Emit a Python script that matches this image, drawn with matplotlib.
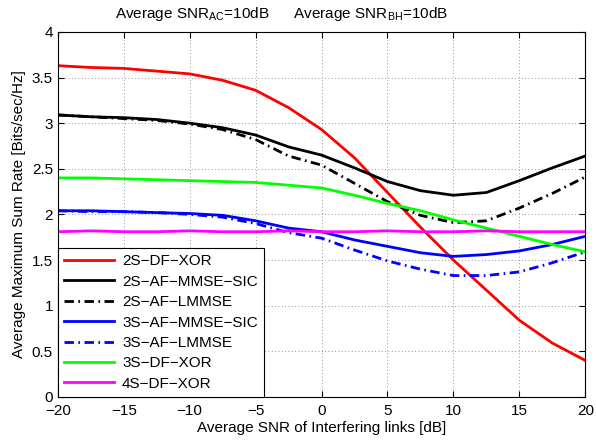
import numpy as np
import matplotlib
matplotlib.use("Agg")
import matplotlib.pyplot as plt

plt.rcParams['font.family'] = ['Liberation Sans', 'DejaVu Sans']
plt.rcParams['mathtext.fontset'] = 'custom'
plt.rcParams['mathtext.rm'] = 'Liberation Sans'

snr = [-20, -17.5, -15, -12.5, -10, -7.5, -5, -2.5, 0, 2.5, 5, 7.5, 10, 12.5, 15, 17.5, 20]

df2_xor = [3.63, 3.61, 3.60, 3.57, 3.54, 3.47, 3.36, 3.17, 2.93, 2.62, 2.24, 1.86, 1.50, 1.17, 0.84, 0.59, 0.40]
af2_sic = [3.09, 3.07, 3.06, 3.04, 3.00, 2.95, 2.87, 2.74, 2.65, 2.51, 2.36, 2.26, 2.21, 2.24, 2.37, 2.51, 2.64]
af2_lmmse = [3.09, 3.07, 3.05, 3.03, 2.99, 2.93, 2.82, 2.64, 2.54, 2.34, 2.14, 1.99, 1.91, 1.93, 2.07, 2.23, 2.41]
af3_sic = [2.04, 2.04, 2.03, 2.02, 2.01, 1.99, 1.93, 1.85, 1.81, 1.72, 1.65, 1.58, 1.54, 1.56, 1.60, 1.67, 1.76]
af3_lmmse = [2.04, 2.03, 2.03, 2.02, 2.00, 1.97, 1.90, 1.80, 1.74, 1.61, 1.49, 1.40, 1.33, 1.33, 1.37, 1.47, 1.59]
df3_xor = [2.40, 2.40, 2.39, 2.38, 2.37, 2.36, 2.35, 2.32, 2.29, 2.21, 2.12, 2.04, 1.94, 1.85, 1.76, 1.67, 1.59]
df4_xor = [1.81, 1.82, 1.81, 1.81, 1.82, 1.81, 1.81, 1.82, 1.81, 1.81, 1.82, 1.81, 1.81, 1.82, 1.81, 1.81, 1.81]

labels = ['2S\u2212DF\u2212XOR', '2S\u2212AF\u2212MMSE\u2212SIC', '2S\u2212AF\u2212LMMSE',
          '3S\u2212AF\u2212MMSE\u2212SIC', '3S\u2212AF\u2212LMMSE', '3S\u2212DF\u2212XOR', '4S\u2212DF\u2212XOR']

dashdot = (0, (3.4, 1.6, 0.6, 1.6))
fs = 11

fig = plt.figure(figsize=(5.96, 4.43), dpi=100)
ax = fig.add_axes([0.097, 0.104, 0.885, 0.824])

ax.plot(snr, df2_xor, '-', color=(1, 0, 0), lw=2, label=labels[0])
ax.plot(snr, af2_sic, '-', color='k', lw=2, label=labels[1])
ax.plot(snr, af2_lmmse, linestyle=dashdot, color='k', lw=2, label=labels[2])
ax.plot(snr, af3_sic, '-', color=(0, 0, 1), lw=2, label=labels[3])
ax.plot(snr, af3_lmmse, linestyle=dashdot, color=(0, 0, 1), lw=2, label=labels[4])
ax.plot(snr, df3_xor, '-', color=(0, 1, 0), lw=2, label=labels[5])
ax.plot(snr, df4_xor, '-', color=(1, 0, 1), lw=2, label=labels[6])

ax.set_xlim(-20, 20)
ax.set_ylim(0, 4)
ax.set_xticks(range(-20, 21, 5))
ax.set_xticklabels(['\u2212' + str(-v) if v < 0 else str(v) for v in range(-20, 21, 5)])
yt = np.arange(0, 4.01, 0.5)
ax.set_yticks(yt)
ax.set_yticklabels(['%g' % v for v in yt])
ax.tick_params(direction='in', top=True, right=True, labelsize=fs, length=4)
ax.tick_params(axis='x', pad=5)
ax.grid(True, color='0.45', linestyle=(0, (1, 3)), linewidth=0.6)

ax.set_xlabel('Average SNR of Interfering links [dB]', fontsize=fs, labelpad=2)
ax.set_ylabel('Average Maximum Sum Rate [Bits/sec/Hz]', fontsize=fs, labelpad=4)
fig.text(282 / 596, 1 - 14 / 443,
         'Average SNR$_{\\mathrm{AC}}$=10dB      Average SNR$_{\\mathrm{BH}}$=10dB',
         fontsize=fs, ha='center', va='center')

leg = ax.legend(loc='lower left', fontsize=fs, fancybox=False, framealpha=1, edgecolor='k',
                borderaxespad=0, handlelength=3.3, handletextpad=0.5, labelspacing=0.42,
                borderpad=0.4)
leg.get_frame().set_linewidth(0.8)

fig.savefig('out.png', dpi=100)
